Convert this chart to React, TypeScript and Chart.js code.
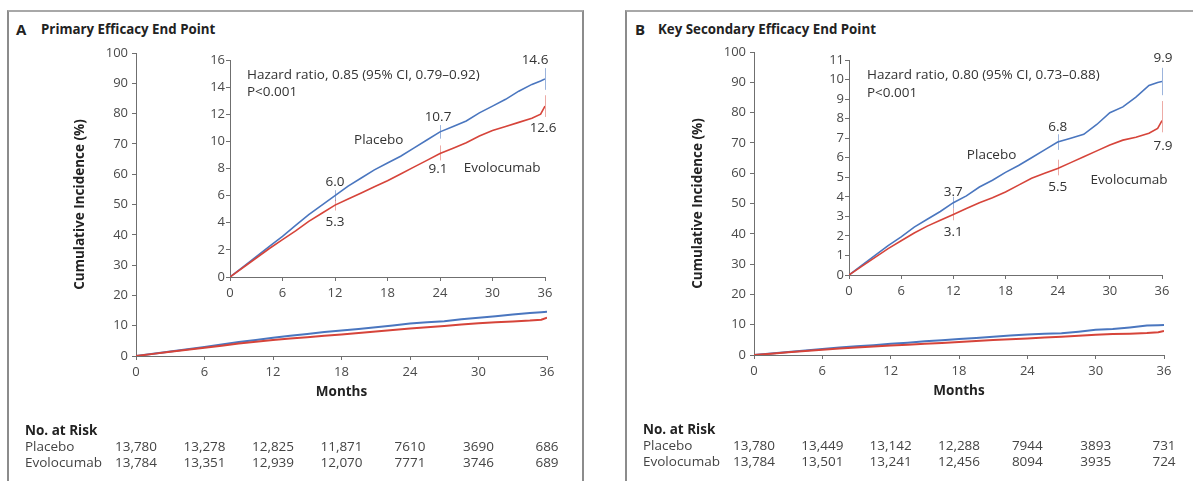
import React, { useEffect, useRef } from "react";
import { Chart, registerables } from "chart.js";
Chart.register(...registerables);

// ---------- data ----------
const months = [0, 1.5, 3, 4.5, 6, 7.5, 9, 10.5, 12, 13.5, 15, 16.5, 18, 19.5, 21, 22.5, 24, 25.5, 27, 28.5, 30, 31.5, 33, 34.5, 35.5, 36];

const placeboA = [0, 0.75, 1.5, 2.25, 3.0, 3.8, 4.6, 5.3, 6.0, 6.7, 7.3, 7.9, 8.4, 8.9, 9.5, 10.1, 10.7, 11.1, 11.5, 12.1, 12.6, 13.1, 13.7, 14.2, 14.45, 14.6];
const evolocumabA = [0, 0.7, 1.4, 2.1, 2.75, 3.4, 4.1, 4.7, 5.3, 5.75, 6.2, 6.65, 7.1, 7.6, 8.1, 8.6, 9.1, 9.5, 9.9, 10.4, 10.8, 11.1, 11.4, 11.7, 12.0, 12.6];

const placeboB = [0, 0.5, 1.0, 1.5, 1.95, 2.45, 2.85, 3.25, 3.7, 4.05, 4.5, 4.85, 5.25, 5.6, 6.0, 6.4, 6.8, 7.0, 7.2, 7.7, 8.3, 8.6, 9.1, 9.7, 9.85, 9.9];
const evolocumabB = [0, 0.45, 0.9, 1.35, 1.75, 2.15, 2.5, 2.8, 3.1, 3.4, 3.7, 3.95, 4.25, 4.6, 4.95, 5.2, 5.45, 5.75, 6.05, 6.35, 6.65, 6.9, 7.05, 7.25, 7.5, 7.9];

const xTicks = [0, 6, 12, 18, 24, 30, 36];
const mainYTicks = [0, 10, 20, 30, 40, 50, 60, 70, 80, 90, 100];
const insetYTicksA = [0, 2, 4, 6, 8, 10, 12, 14, 16];
const insetYTicksB = [0, 1, 2, 3, 4, 5, 6, 7, 8, 9, 10, 11];

const labelMonths = [12, 24, 36];
const placeboLabelsA = [6.0, 10.7, 14.6];
const evolocumabLabelsA = [5.3, 9.1, 12.6];
const placeboLabelsB = [3.7, 6.8, 9.9];
const evolocumabLabelsB = [3.1, 5.5, 7.9];

const ciPlaceboLowA = [5.6, 10.2, 13.8];
const ciPlaceboHighA = [6.4, 11.2, 15.4];
const ciEvolocumabLowA = [4.9, 8.6, 11.8];
const ciEvolocumabHighA = [5.7, 9.7, 13.4];
const ciPlaceboLowB = [3.4, 6.4, 9.2];
const ciPlaceboHighB = [4.0, 7.2, 10.6];
const ciEvolocumabLowB = [2.8, 5.1, 7.3];
const ciEvolocumabHighB = [3.4, 5.9, 8.9];

const riskPlaceboA = ["13,780", "13,278", "12,825", "11,871", "7610", "3690", "686"];
const riskEvolocumabA = ["13,784", "13,351", "12,939", "12,070", "7771", "3746", "689"];
const riskPlaceboB = ["13,780", "13,449", "13,142", "12,288", "7944", "3893", "731"];
const riskEvolocumabB = ["13,784", "13,501", "13,241", "12,456", "8094", "3935", "724"];

// ---------- styles ----------
const FONT = "'Open Sans', 'Noto Sans', sans-serif";
const BLUE = "#4a76bf";
const RED = "#d6443a";
const AXIS = "#6f6f6f";
const TICK = "#4a4a4a";
const TEXT_SIZE = 13.5;
const TICK_SIZE = 13;

Chart.defaults.font.family = FONT;

type Ann = { text: string; x: number; y: number; dx: number; dy: number; align: CanvasTextAlign };

function pts(vals: number[]) {
  return months.map((m, i) => ({ x: m, y: vals[i] }));
}

function axisX(afterH: number, pad: number, size: number) {
  return {
    type: "linear" as const,
    min: 0,
    max: 36,
    afterBuildTicks: (s: any) => { s.ticks = xTicks.map((v) => ({ value: v })); },
    ticks: { color: TICK, font: { size, family: FONT }, padding: pad, maxRotation: 0, autoSkip: false },
    grid: { drawOnChartArea: false, tickLength: 4, color: AXIS },
    border: { color: AXIS, width: 1 },
    afterFit: (s: any) => { s.height = afterH; },
  };
}

function axisY(max: number, ticks: number[], width: number, pad: number, size: number) {
  return {
    type: "linear" as const,
    min: 0,
    max,
    afterBuildTicks: (s: any) => { s.ticks = ticks.map((v) => ({ value: v })); },
    ticks: { color: TICK, font: { size, family: FONT }, padding: pad, autoSkip: false },
    grid: { drawOnChartArea: false, tickLength: 4, color: AXIS },
    border: { color: AXIS, width: 1 },
    afterFit: (s: any) => { s.width = width; },
  };
}

type PanelData = {
  placebo: number[];
  evolocumab: number[];
  riskP: string[];
  riskE: string[];
};

function mainPlugin(p: PanelData) {
  return {
    id: "mainDecor",
    afterDraw(chart: any) {
      const { ctx, chartArea, scales } = chart;
      ctx.save();
      ctx.fillStyle = "#222";
      ctx.font = `bold ${TEXT_SIZE}px ${FONT}`;
      ctx.textAlign = "center";
      ctx.textBaseline = "middle";
      ctx.fillText("Months", (chartArea.left + chartArea.right) / 2, chartArea.bottom + 36);
      ctx.save();
      ctx.translate(chartArea.left - 56, (chartArea.top + chartArea.bottom) / 2);
      ctx.rotate(-Math.PI / 2);
      ctx.fillText("Cumulative Incidence (%)", 0, 0);
      ctx.restore();
      const lx = chartArea.left - 111;
      ctx.textAlign = "left";
      ctx.fillText("No. at Risk", lx, chartArea.bottom + 75);
      ctx.font = `${TEXT_SIZE}px ${FONT}`;
      ctx.fillStyle = "#444";
      ctx.fillText("Placebo", lx, chartArea.bottom + 91);
      ctx.fillText("Evolocumab", lx, chartArea.bottom + 107);
      ctx.textAlign = "center";
      xTicks.forEach((m, i) => {
        const px = scales.x.getPixelForValue(m);
        ctx.fillText(p.riskP[i], px, chartArea.bottom + 91);
        ctx.fillText(p.riskE[i], px, chartArea.bottom + 107);
      });
      ctx.restore();
    },
  };
}

function mainConfig(p: PanelData, padding: any): any {
  return {
    type: "line",
    data: {
      datasets: [
        { label: "Evolocumab", data: pts(p.evolocumab), borderColor: RED, borderWidth: 2, pointRadius: 0, tension: 0 },
        { label: "Placebo", data: pts(p.placebo), borderColor: BLUE, borderWidth: 2, pointRadius: 0, tension: 0 },
      ],
    },
    options: {
      animation: false,
      responsive: false,
      devicePixelRatio: 1,
      layout: { autoPadding: false, padding },
      plugins: { legend: { display: false }, tooltip: { enabled: false } },
      scales: { x: axisX(30, 4, TICK_SIZE), y: axisY(100, mainYTicks, 46, 4, TICK_SIZE) },
    },
    plugins: [mainPlugin(p)],
  };
}

type CI = { color: string; low: number[]; high: number[] };

function insetPlugin(anns: Ann[], cis: CI[]) {
  return {
    id: "insetDecor",
    afterDatasetsDraw(chart: any) {
      const { ctx, scales } = chart;
      ctx.save();
      cis.forEach((c) => {
        ctx.strokeStyle = c.color;
        ctx.lineWidth = 1;
        labelMonths.forEach((m, i) => {
          const px = Math.round(scales.x.getPixelForValue(m)) + 0.5;
          ctx.beginPath();
          ctx.moveTo(px, scales.y.getPixelForValue(c.low[i]));
          ctx.lineTo(px, scales.y.getPixelForValue(c.high[i]));
          ctx.stroke();
        });
      });
      ctx.fillStyle = "#333";
      ctx.font = `${TEXT_SIZE}px ${FONT}`;
      ctx.textBaseline = "middle";
      anns.forEach((a) => {
        ctx.textAlign = a.align;
        ctx.fillText(a.text, scales.x.getPixelForValue(a.x) + a.dx, scales.y.getPixelForValue(a.y) + a.dy);
      });
      ctx.restore();
    },
  };
}

function insetConfig(p: PanelData, yMax: number, yTicks: number[], padding: any, anns: Ann[], cis: CI[]): any {
  return {
    type: "line",
    data: {
      datasets: [
        { label: "Evolocumab", data: pts(p.evolocumab), borderColor: RED, borderWidth: 1.6, pointRadius: 0, tension: 0 },
        { label: "Placebo", data: pts(p.placebo), borderColor: BLUE, borderWidth: 1.6, pointRadius: 0, tension: 0 },
      ],
    },
    options: {
      animation: false,
      responsive: false,
      devicePixelRatio: 1,
      layout: { autoPadding: false, padding },
      plugins: { legend: { display: false }, tooltip: { enabled: false } },
      scales: { x: axisX(30, 4, TICK_SIZE), y: axisY(yMax, yTicks, 30, 1, TICK_SIZE) },
    },
    plugins: [insetPlugin(anns, cis)],
  };
}

function ChartCanvas({ left, top, width, height, make }: { left: number; top: number; width: number; height: number; make: () => any }) {
  const ref = useRef<HTMLCanvasElement>(null);
  useEffect(() => {
    const c = new Chart(ref.current as HTMLCanvasElement, make());
    return () => c.destroy();
  }, []);
  return <canvas ref={ref} width={width} height={height} style={{ position: "absolute", left, top, width, height }} />;
}

const panelA: PanelData = { placebo: placeboA, evolocumab: evolocumabA, riskP: riskPlaceboA, riskE: riskEvolocumabA };
const panelB: PanelData = { placebo: placeboB, evolocumab: evolocumabB, riskP: riskPlaceboB, riskE: riskEvolocumabB };

const annsA: Ann[] = [
  { text: "Hazard ratio, 0.85 (95% CI, 0.79\u20130.92)", x: 0, y: 16, dx: 17, dy: 15, align: "left" },
  { text: "P<0.001", x: 0, y: 16, dx: 17, dy: 32, align: "left" },
  { text: "Placebo", x: 17.0, y: 10.1, dx: 0, dy: 0, align: "center" },
  { text: "Evolocumab", x: 31.1, y: 8.0, dx: 0, dy: 0, align: "center" },
  { text: placeboLabelsA[0].toFixed(1), x: labelMonths[0], y: placeboLabelsA[0], dx: 0, dy: -13, align: "center" },
  { text: evolocumabLabelsA[0].toFixed(1), x: labelMonths[0], y: evolocumabLabelsA[0], dx: 0, dy: 17, align: "center" },
  { text: placeboLabelsA[1].toFixed(1), x: labelMonths[1], y: placeboLabelsA[1], dx: -2, dy: -15, align: "center" },
  { text: evolocumabLabelsA[1].toFixed(1), x: labelMonths[1], y: evolocumabLabelsA[1], dx: -2, dy: 16, align: "center" },
  { text: placeboLabelsA[2].toFixed(1), x: labelMonths[2], y: placeboLabelsA[2], dx: -10, dy: -19, align: "center" },
  { text: evolocumabLabelsA[2].toFixed(1), x: labelMonths[2], y: evolocumabLabelsA[2], dx: -2, dy: 22, align: "center" },
];

const annsB: Ann[] = [
  { text: "Hazard ratio, 0.80 (95% CI, 0.73\u20130.88)", x: 0, y: 11, dx: 18, dy: 15, align: "left" },
  { text: "P<0.001", x: 0, y: 11, dx: 18, dy: 33, align: "left" },
  { text: "Placebo", x: 16.4, y: 6.14, dx: 0, dy: 0, align: "center" },
  { text: "Evolocumab", x: 32.2, y: 4.86, dx: 0, dy: 0, align: "center" },
  { text: placeboLabelsB[0].toFixed(1), x: labelMonths[0], y: placeboLabelsB[0], dx: 0, dy: -11, align: "center" },
  { text: evolocumabLabelsB[0].toFixed(1), x: labelMonths[0], y: evolocumabLabelsB[0], dx: 0, dy: 18, align: "center" },
  { text: placeboLabelsB[1].toFixed(1), x: labelMonths[1], y: placeboLabelsB[1], dx: 0, dy: -15, align: "center" },
  { text: evolocumabLabelsB[1].toFixed(1), x: labelMonths[1], y: evolocumabLabelsB[1], dx: 0, dy: 20, align: "center" },
  { text: placeboLabelsB[2].toFixed(1), x: labelMonths[2], y: placeboLabelsB[2], dx: 1, dy: -23, align: "center" },
  { text: evolocumabLabelsB[2].toFixed(1), x: labelMonths[2], y: evolocumabLabelsB[2], dx: 1, dy: 26, align: "center" },
];

const cisA: CI[] = [
  { color: "rgba(74,118,191,0.55)", low: ciPlaceboLowA, high: ciPlaceboHighA },
  { color: "rgba(214,68,58,0.45)", low: ciEvolocumabLowA, high: ciEvolocumabHighA },
];
const cisB: CI[] = [
  { color: "rgba(74,118,191,0.55)", low: ciPlaceboLowB, high: ciPlaceboHighB },
  { color: "rgba(214,68,58,0.45)", low: ciEvolocumabLowB, high: ciEvolocumabHighB },
];

const titleStyle: React.CSSProperties = { position: "absolute", fontFamily: FONT, fontWeight: 700, color: "#222", whiteSpace: "nowrap", lineHeight: "16px" };

export default function App() {
  return (
    <div style={{ position: "fixed", left: 0, top: 0, width: 1193, height: 481, background: "#fff", overflow: "hidden" }}>
      <div style={{ position: "absolute", left: 7, top: 10, width: 573, height: 480, borderLeft: "2px solid #8c8c8c", borderTop: "2px solid #a8a8a8", borderRight: "2px solid #8c8c8c" }} />
      <div style={{ position: "absolute", left: 625, top: 10, width: 600, height: 480, borderLeft: "2px solid #8c8c8c", borderTop: "2px solid #a8a8a8" }} />
      <div style={{ ...titleStyle, left: 16, top: 21, fontSize: 15 }}>A</div>
      <div style={{ ...titleStyle, left: 41, top: 21, fontSize: 13.3 }}>Primary Efficacy End Point</div>
      <div style={{ ...titleStyle, left: 635, top: 21, fontSize: 15 }}>B</div>
      <div style={{ ...titleStyle, left: 658, top: 21, fontSize: 13.3 }}>Key Secondary Efficacy End Point</div>
      <ChartCanvas left={0} top={0} width={600} height={481} make={() => mainConfig(panelA, { left: 90, top: 53, right: 53, bottom: 95 })} />
      <ChartCanvas left={600} top={0} width={593} height={481} make={() => mainConfig(panelB, { left: 108, top: 52, right: 29, bottom: 96 })} />
      <ChartCanvas left={180} top={40} width={380} height={275} make={() => insetConfig(panelA, 16, insetYTicksA, { left: 20, top: 20, right: 15, bottom: 8 }, annsA, cisA)} />
      <ChartCanvas left={800} top={40} width={393} height={275} make={() => insetConfig(panelB, 11, insetYTicksB, { left: 19, top: 20, right: 31, bottom: 10 }, annsB, cisB)} />
    </div>
  );
}
